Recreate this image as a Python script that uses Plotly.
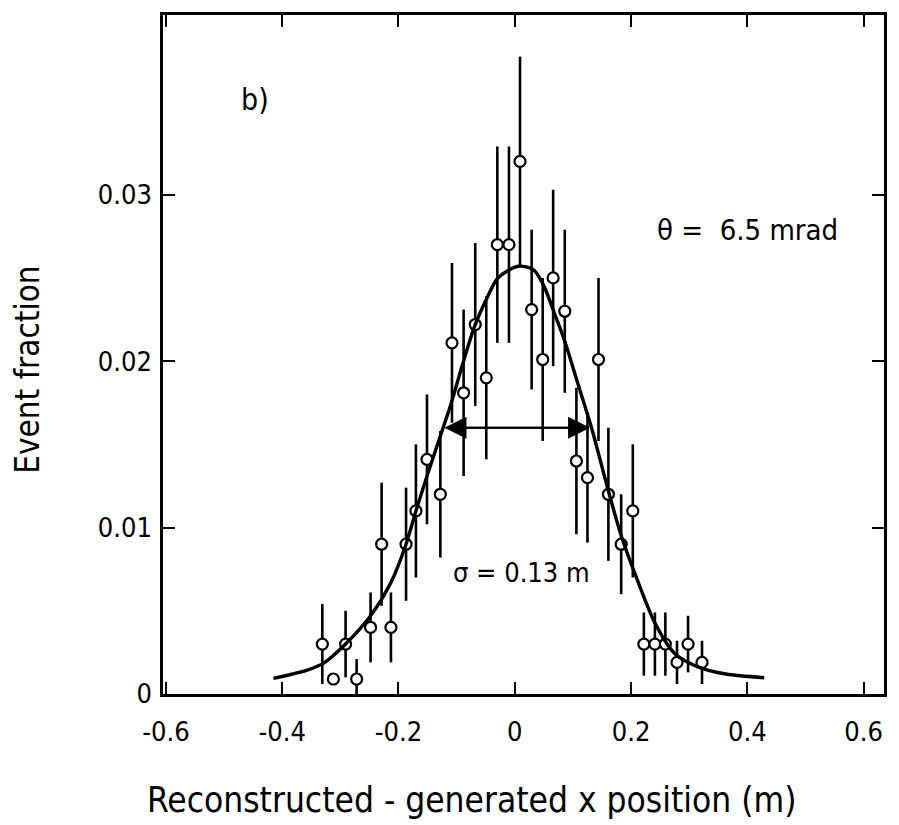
import plotly.graph_objects as go

# ---- data ----
x_pos = [-0.331, -0.312, -0.291, -0.272, -0.248, -0.229, -0.213, -0.187, -0.170, -0.151,
         -0.128, -0.108, -0.088, -0.068, -0.049, -0.030, -0.010, 0.009, 0.029, 0.048,
         0.066, 0.086, 0.106, 0.125, 0.144, 0.161, 0.183, 0.203, 0.222, 0.241,
         0.259, 0.279, 0.298, 0.322]
fraction = [0.0030, 0.0009, 0.0030, 0.0009, 0.0040, 0.0090, 0.0040, 0.0090, 0.0110, 0.0141,
            0.0120, 0.0211, 0.0181, 0.0222, 0.0190, 0.0270, 0.0270, 0.0320, 0.0231, 0.0201,
            0.0250, 0.0230, 0.0140, 0.0130, 0.0201, 0.0120, 0.0090, 0.0110, 0.0030, 0.0030,
            0.0030, 0.0019, 0.0030, 0.0019]
err = [0.0024, 0.0, 0.0020, 0.0012, 0.0021, 0.0037, 0.0021, 0.0034, 0.0040, 0.0039,
       0.0038, 0.0048, 0.0050, 0.0049, 0.0049, 0.0059, 0.0059, 0.0063, 0.0048, 0.0049,
       0.0053, 0.0049, 0.0044, 0.0039, 0.0049, 0.0040, 0.0030, 0.0040, 0.0019, 0.0019,
       0.0019, 0.0013, 0.0017, 0.0013]

fit_x = [-0.415, -0.357, -0.328, -0.291, -0.248, -0.213, -0.187, -0.170, -0.150, -0.127,
         -0.110, -0.089, -0.069, -0.049, -0.029, 0.006, 0.032, 0.049, 0.069, 0.086,
         0.109, 0.132, 0.161, 0.184, 0.207, 0.242, 0.276, 0.317, 0.363, 0.429]
fit_y = [0.00094, 0.00144, 0.00187, 0.0030, 0.0047, 0.0067, 0.0090, 0.0110, 0.0132, 0.0156,
         0.0174, 0.0199, 0.0221, 0.0237, 0.0250, 0.0257, 0.0255, 0.0246, 0.0228, 0.0212,
         0.0186, 0.0160, 0.0122, 0.0094, 0.0072, 0.0042, 0.0024, 0.0016, 0.0012, 0.00098]

sigma_arrow_left = -0.121
sigma_arrow_right = 0.1295
sigma_arrow_y = 0.016

x_ticks = [-0.6, -0.4, -0.2, 0, 0.2, 0.4, 0.6]
x_ticktext = ["-0.6", "-0.4", "-0.2", "0", "0.2", "0.4", "0.6"]
y_ticks = [0, 0.01, 0.02, 0.03]
y_ticktext = ["0", "0.01", "0.02", "0.03"]

FONT = "DejaVu Sans Condensed, Liberation Sans Narrow, sans-serif"

fig = go.Figure()

fig.add_trace(go.Scatter(
    x=x_pos, y=fraction, mode="markers",
    marker=dict(symbol="circle", size=11, color="white",
                line=dict(color="black", width=2.2)),
    error_y=dict(type="data", array=err, visible=True, color="black",
                 thickness=2.6, width=0),
    showlegend=False, hoverinfo="skip"))

fig.add_trace(go.Scatter(
    x=fit_x, y=fit_y, mode="lines",
    line=dict(color="black", width=3.4, shape="spline", smoothing=0.8),
    showlegend=False, hoverinfo="skip"))

# sigma double arrow: two full-length arrows pointing opposite ways
for tip, tail in ((sigma_arrow_left, sigma_arrow_right), (sigma_arrow_right, sigma_arrow_left)):
    fig.add_annotation(x=tip, y=sigma_arrow_y, ax=tail, ay=sigma_arrow_y,
                       xref="x", yref="y", axref="x", ayref="y",
                       text="", showarrow=True, arrowhead=2, arrowsize=2.2,
                       arrowwidth=2, arrowcolor="black")

fig.add_annotation(x=-0.447, y=0.0357, xref="x", yref="y", text="b)",
                   showarrow=False, font=dict(family=FONT, size=30, color="black"))
fig.add_annotation(x=0.242, y=0.0279, xref="x", yref="y", xanchor="left",
                   text="θ =  6.5 mrad", showarrow=False,
                   font=dict(family=FONT, size=29, color="black"))
fig.add_annotation(x=-0.11, y=0.0073, xref="x", yref="y", xanchor="left",
                   text="σ = 0.13 m", showarrow=False,
                   font=dict(family=FONT, size=27, color="black"))

# axis titles
fig.add_annotation(x=0.429, y=(694 - 800) / 682, xref="paper", yref="paper",
                   xanchor="center", yanchor="middle", showarrow=False,
                   text="Reconstructed - generated x position (m)",
                   font=dict(family=FONT, size=35, color="black"))
fig.add_annotation(x=(27 - 163) / 723, y=0.478, xref="paper", yref="paper",
                   xanchor="center", yanchor="middle", showarrow=False,
                   text="Event fraction", textangle=-90,
                   font=dict(family=FONT, size=33, color="black"))

axis_common = dict(showgrid=False, zeroline=False, showline=True, linecolor="black",
                   linewidth=2.5, mirror="ticks", ticks="inside", ticklen=12,
                   tickwidth=2, tickcolor="black",
                   tickfont=dict(family=FONT, size=27, color="black"))

fig.update_xaxes(range=[-0.605, 0.635], tickmode="array", tickvals=x_ticks,
                 ticktext=x_ticktext, ticklabelstandoff=12, **axis_common)
fig.update_yaxes(range=[0, 0.0408], tickmode="array", tickvals=y_ticks,
                 ticktext=y_ticktext, ticklabelstandoff=3, **axis_common)

fig.update_layout(width=899, height=825, margin=dict(l=163, r=13, t=12, b=131),
                  paper_bgcolor="white", plot_bgcolor="white")

fig.write_html("out.html")
